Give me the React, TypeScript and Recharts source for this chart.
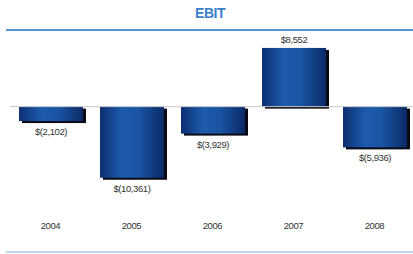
import { BarChart, Bar, XAxis, YAxis, ReferenceLine, LabelList } from 'recharts'

const years = ['2004', '2005', '2006', '2007', '2008']
const ebit = [-2102, -10361, -3929, 8552, -5936]

const data = years.map((year, i) => ({ year, ebit: ebit[i] }))

const fmt = (v: number) => {
  const s = Math.abs(v).toLocaleString('en-US')
  return v < 0 ? `$(${s})` : `$${s}`
}

const FONT = '"Liberation Sans Narrow", "Arial Narrow", "Liberation Sans", Arial, sans-serif'

// normalise rects: recharts may hand negative heights for bars below zero
const norm = (y: number, h: number) => (h < 0 ? { top: y + h, h: -h } : { top: y, h })

function ShadowBar(props: any) {
  const { x, y, width, height } = props
  if (!width || !height) return null
  const { top, h } = norm(y, height)
  return (
    <g>
      <rect x={x + 3} y={top + 2} width={width} height={h} fill="#0a0a14" />
      <rect x={x} y={top} width={width} height={h} fill="url(#barGrad)" />
    </g>
  )
}

function ValueLabel(props: any) {
  const { x, y, width, height, value } = props
  const cx = x + width / 2
  const { top, h } = norm(y, height)
  const ty = value < 0 ? top + h + 14 : top - 5
  return (
    <text x={cx} y={ty} textAnchor="middle" fontSize={9.5} letterSpacing={-0.4} fill="#333" fontFamily={FONT}>
      {fmt(value)}
    </text>
  )
}

export default function App() {
  return (
    <div style={{ position: 'absolute', left: 0, top: 0, width: 413, height: 254, overflow: 'hidden', background: '#fff', fontFamily: FONT }}>
      <div style={{ position: 'absolute', left: 0, width: 420, top: 5, textAlign: 'center', color: '#3b7fcb', fontSize: 14, fontWeight: 'bold', letterSpacing: -0.5 }}>
        EBIT
      </div>
      <div style={{ position: 'absolute', left: 6, right: 0, top: 29, height: 2, background: '#5a97d6' }} />
      <div style={{ position: 'absolute', left: 6, right: 0, top: 251, height: 2, background: '#c3d5ea' }} />
      <div style={{ position: 'absolute', left: 0, top: 0 }}>
        <BarChart width={416} height={254} data={data} margin={{ top: 38, right: 1, left: 10, bottom: 0 }} barSize={64}>
          <defs>
            <linearGradient id="barGrad" x1="0" y1="0" x2="1" y2="0">
              <stop offset="0%" stopColor="#0d2f70" />
              <stop offset="35%" stopColor="#1d5bae" />
              <stop offset="60%" stopColor="#1a55a4" />
              <stop offset="100%" stopColor="#0b2a66" />
            </linearGradient>
          </defs>
          <XAxis
            dataKey="year"
            height={65}
            axisLine={false}
            tickLine={false}
            tick={{ fontSize: 9.5, fill: '#333', fontFamily: FONT, dy: 25, letterSpacing: -0.4 }}
          />
          <YAxis hide domain={[-12000, 10000]} />
          <ReferenceLine y={0} stroke="#c8c8c8" strokeWidth={1} />
          <Bar dataKey="ebit" shape={<ShadowBar />} isAnimationActive={false}>
            <LabelList dataKey="ebit" content={<ValueLabel />} />
          </Bar>
        </BarChart>
      </div>
    </div>
  )
}
